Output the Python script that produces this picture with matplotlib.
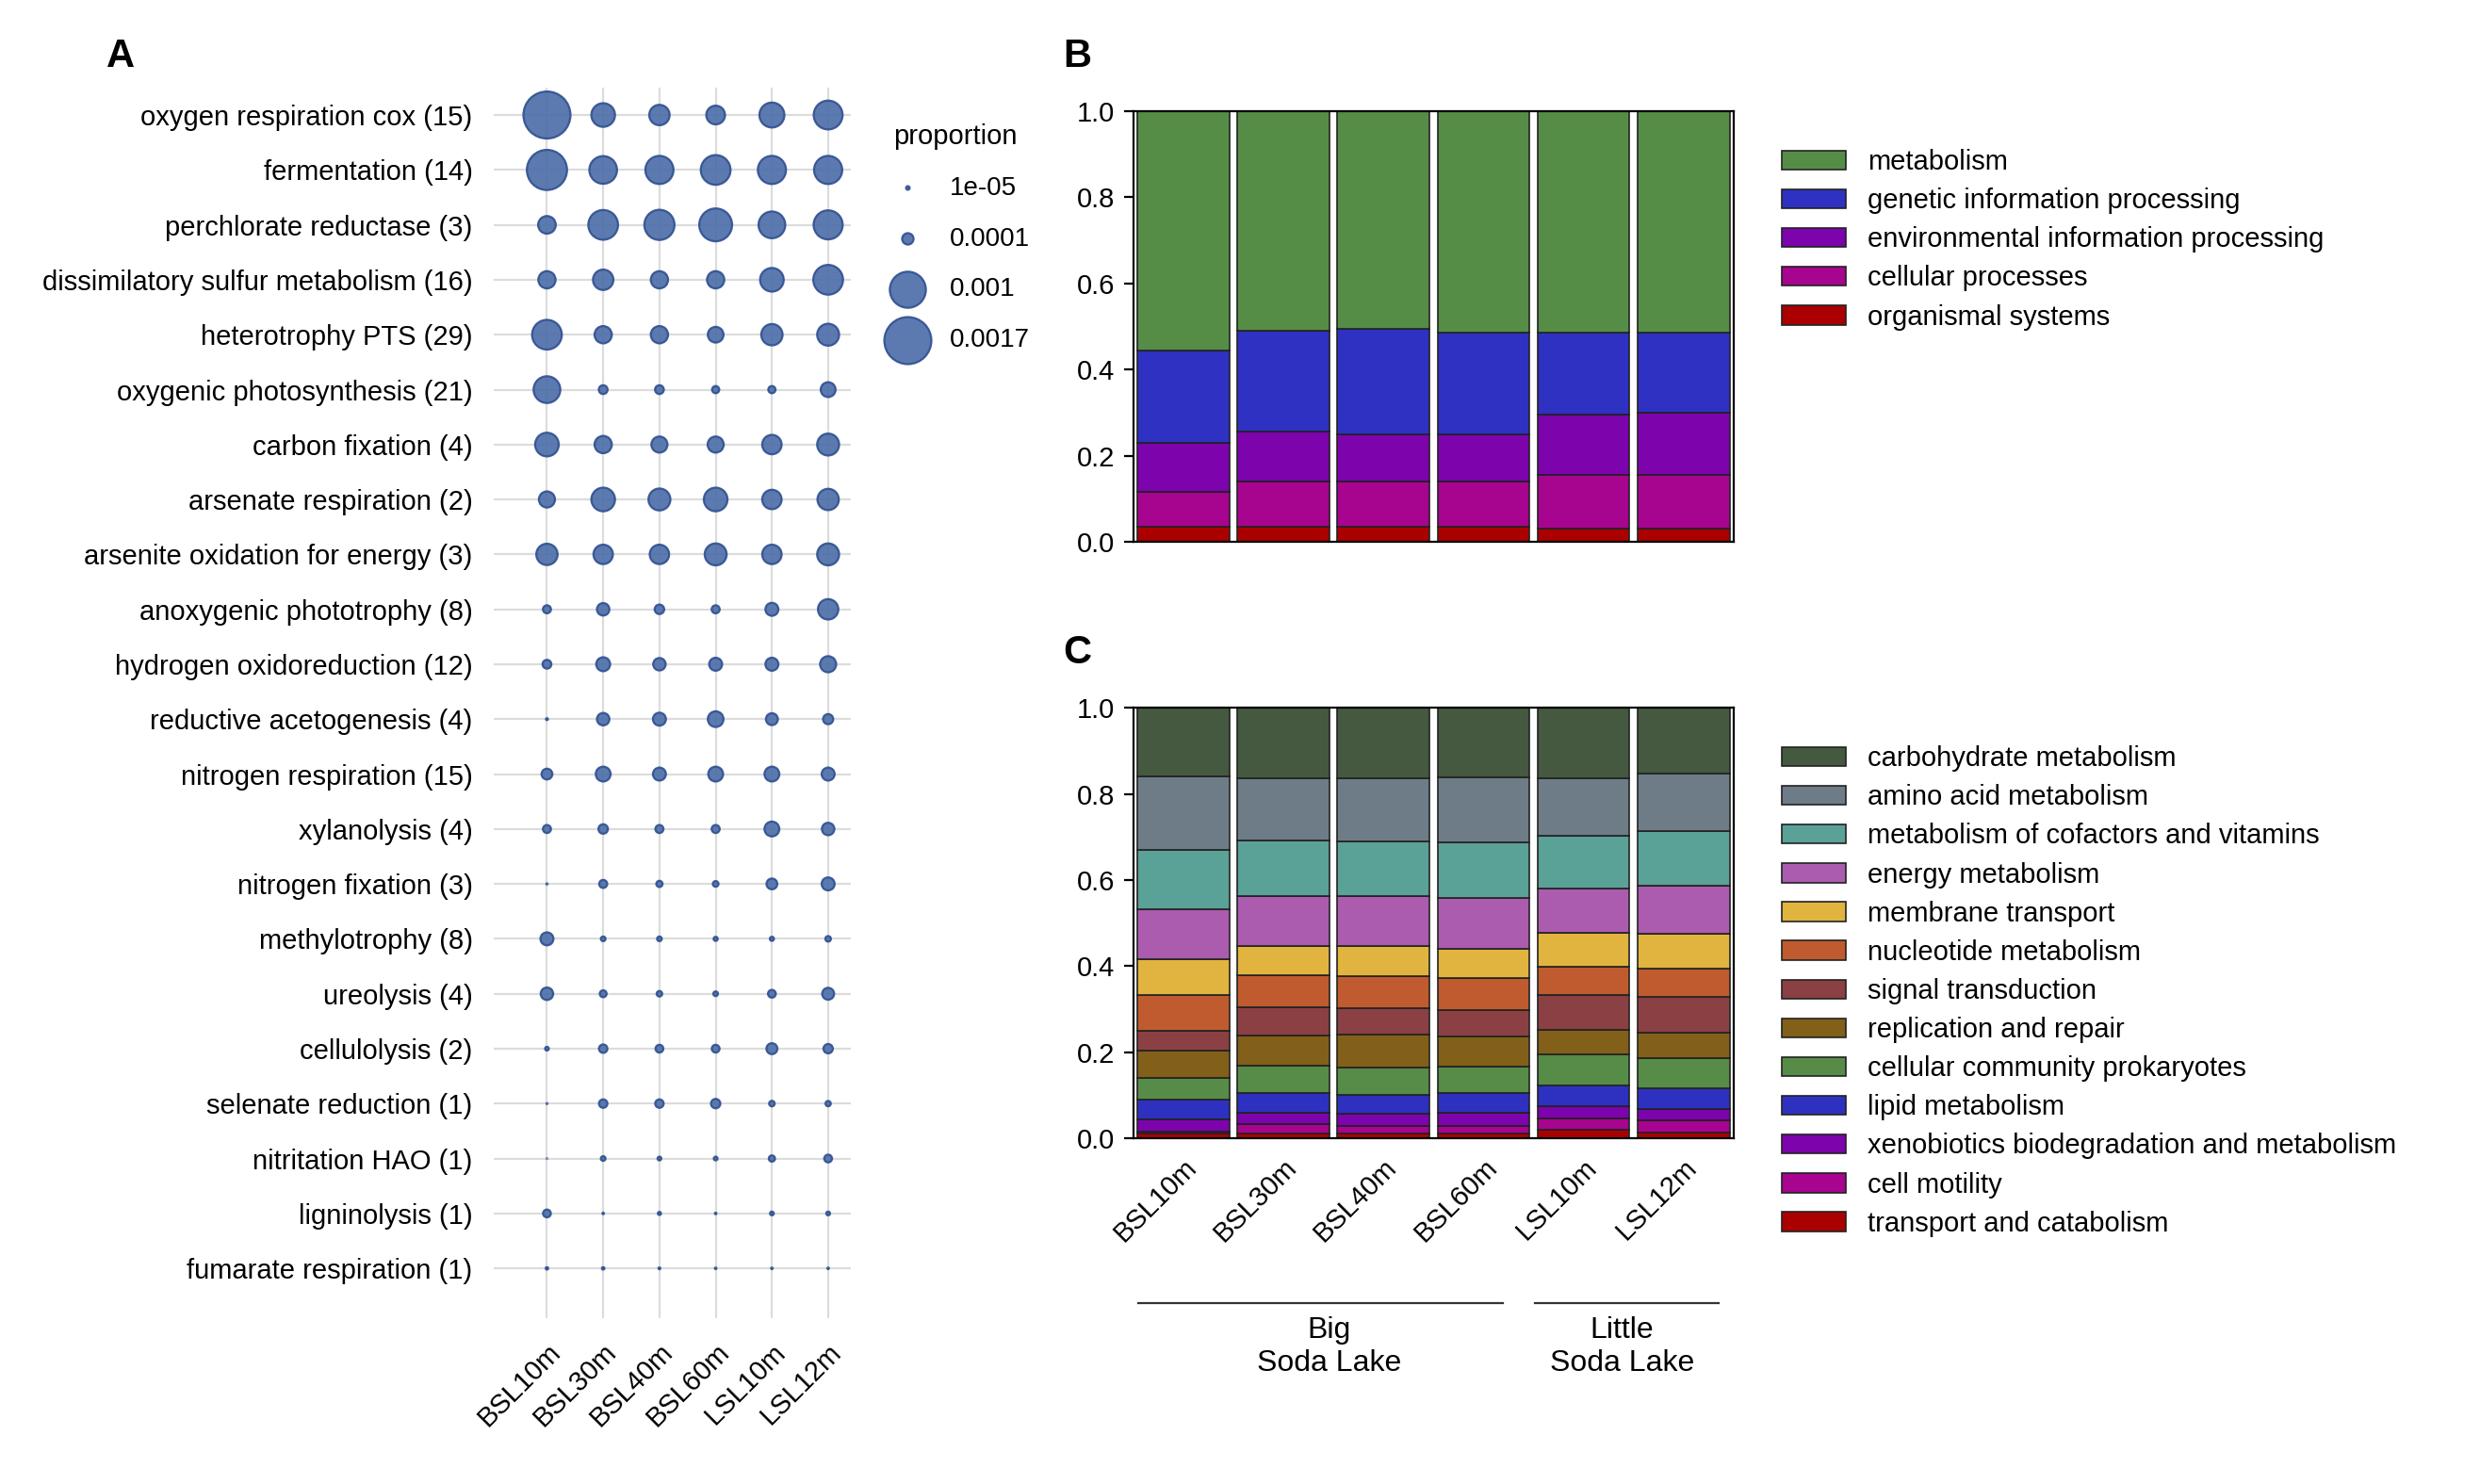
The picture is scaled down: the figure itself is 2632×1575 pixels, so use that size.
import numpy as np
import matplotlib.pyplot as plt

plt.rcParams['font.family'] = ['Liberation Sans', 'DejaVu Sans']

samples = ['BSL10m', 'BSL30m', 'BSL40m', 'BSL60m', 'LSL10m', 'LSL12m']

# ---- panel A: pathway proportions ----
pathways = ['oxygen respiration cox (15)', 'fermentation (14)', 'perchlorate reductase (3)',
            'dissimilatory sulfur metabolism (16)', 'heterotrophy PTS (29)',
            'oxygenic photosynthesis (21)', 'carbon fixation (4)', 'arsenate respiration (2)',
            'arsenite oxidation for energy (3)', 'anoxygenic phototrophy (8)',
            'hydrogen oxidoreduction (12)', 'reductive acetogenesis (4)',
            'nitrogen respiration (15)', 'xylanolysis (4)', 'nitrogen fixation (3)',
            'methylotrophy (8)', 'ureolysis (4)', 'cellulolysis (2)', 'selenate reduction (1)',
            'nitritation HAO (1)', 'ligninolysis (1)', 'fumarate respiration (1)']
proportion = np.array([
    [1.7e-3, 4.3e-4, 3.2e-4, 2.7e-4, 4.8e-4, 6.4e-4],
    [1.24e-3, 5.9e-4, 6.1e-4, 6.8e-4, 6.1e-4, 6.1e-4],
    [2.4e-4, 6.8e-4, 7.0e-4, 8.3e-4, 5.5e-4, 6.5e-4],
    [2.3e-4, 3.2e-4, 2.3e-4, 2.3e-4, 4.3e-4, 6.8e-4],
    [6.8e-4, 2.3e-4, 2.3e-4, 1.9e-4, 3.5e-4, 3.7e-4],
    [5.5e-4, 6e-5, 6e-5, 4e-5, 4e-5, 1.7e-4],
    [4.3e-4, 2.3e-4, 2.0e-4, 2.0e-4, 2.9e-4, 3.7e-4],
    [2.0e-4, 4.3e-4, 3.7e-4, 4.3e-4, 2.9e-4, 3.5e-4],
    [3.5e-4, 2.9e-4, 2.9e-4, 3.7e-4, 2.9e-4, 3.7e-4],
    [5e-5, 1.2e-4, 7e-5, 5e-5, 1.3e-4, 3.2e-4],
    [6e-5, 1.5e-4, 1.2e-4, 1.3e-4, 1.3e-4, 2.0e-4],
    [3e-6, 1.2e-4, 1.3e-4, 1.9e-4, 1.1e-4, 8e-5],
    [9e-5, 1.7e-4, 1.3e-4, 1.7e-4, 1.7e-4, 1.3e-4],
    [5e-5, 7e-5, 5e-5, 5e-5, 1.7e-4, 1.2e-4],
    [1e-6, 5e-5, 3e-5, 2.5e-5, 9e-5, 1.3e-4],
    [1.3e-4, 1.7e-5, 1.7e-5, 1.3e-5, 1.3e-5, 2.4e-5],
    [1.2e-4, 3.7e-5, 2.4e-5, 1.7e-5, 4.7e-5, 1.1e-4],
    [1.1e-5, 5.5e-5, 4.7e-5, 4.7e-5, 9.3e-5, 6.8e-5],
    [7e-7, 5.5e-5, 5.5e-5, 6.8e-5, 2.4e-5, 2.2e-5],
    [3e-7, 1.7e-5, 1.1e-5, 1.1e-5, 3.0e-5, 4.7e-5],
    [4.7e-5, 1.9e-6, 7.6e-6, 1.9e-6, 1.1e-5, 1.1e-5],
    [4.8e-6, 4.8e-6, 2.7e-6, 1.9e-6, 1.9e-6, 1.9e-6],
])
legend_values = [1e-05, 0.0001, 0.001, 0.0017]
legend_labels = ['1e-05', '0.0001', '0.001', '0.0017']

# ---- panel B: top-level KEGG categories (bottom to top) ----
b_cats = ['organismal systems', 'cellular processes', 'environmental information processing',
          'genetic information processing', 'metabolism']
b_colors = ['#aa0000', '#a7048f', '#7d03ad', '#2e31c2', '#558d47']
b_tops = np.array([  # cumulative upper boundary of each layer
    [0.035, 0.035, 0.035, 0.035, 0.030, 0.030],
    [0.115, 0.140, 0.140, 0.140, 0.155, 0.155],
    [0.230, 0.255, 0.250, 0.250, 0.295, 0.300],
    [0.445, 0.490, 0.495, 0.485, 0.485, 0.485],
    [1.0, 1.0, 1.0, 1.0, 1.0, 1.0],
])

# ---- panel C: second-level categories (bottom to top) ----
c_cats = ['transport and catabolism', 'cell motility', 'xenobiotics biodegradation and metabolism',
          'lipid metabolism', 'cellular community prokaryotes', 'replication and repair',
          'signal transduction', 'nucleotide metabolism', 'membrane transport',
          'energy metabolism', 'metabolism of cofactors and vitamins', 'amino acid metabolism',
          'carbohydrate metabolism']
c_colors = ['#aa0000', '#a7048f', '#7d03ad', '#2e31bf', '#568c47', '#82601a', '#8b4044',
            '#bf5b2e', '#e0b43e', '#ab5caf', '#5aa197', '#6e7c87', '#44593f']
c_tops = np.array([
    [0.012, 0.012, 0.010, 0.010, 0.019, 0.014],
    [0.016, 0.033, 0.029, 0.029, 0.047, 0.041],
    [0.043, 0.060, 0.058, 0.060, 0.074, 0.067],
    [0.089, 0.105, 0.101, 0.105, 0.122, 0.115],
    [0.141, 0.169, 0.165, 0.167, 0.194, 0.186],
    [0.204, 0.238, 0.240, 0.236, 0.252, 0.246],
    [0.250, 0.305, 0.302, 0.298, 0.333, 0.329],
    [0.333, 0.378, 0.376, 0.372, 0.398, 0.394],
    [0.415, 0.447, 0.446, 0.440, 0.477, 0.475],
    [0.531, 0.562, 0.562, 0.558, 0.580, 0.587],
    [0.671, 0.692, 0.690, 0.688, 0.702, 0.713],
    [0.841, 0.837, 0.837, 0.839, 0.837, 0.847],
    [1.0, 1.0, 1.0, 1.0, 1.0, 1.0],
])

SIZE_K = 190000  # points^2 per unit proportion
bubble_face = '#4a6ca8'
bubble_edge = '#2f4f8f'

fig = plt.figure(figsize=(13.16, 7.875), dpi=200)

# panel A
axA = fig.add_axes([0.199, 0.112, 0.144, 0.829])
n_rows = len(pathways)
xs = np.arange(len(samples))
ys = np.arange(n_rows)[::-1]
for i in range(n_rows):
    axA.axhline(ys[i], color='#dcdcdc', lw=0.8, zorder=0)
for j in xs:
    axA.axvline(j, color='#dcdcdc', lw=0.8, zorder=0)
X, Y = np.meshgrid(xs, ys)
axA.scatter(X.ravel(), Y.ravel(), s=proportion.ravel() * SIZE_K, c=bubble_face,
            edgecolors=bubble_edge, linewidths=0.8, alpha=0.9, zorder=2)
axA.set_xlim(-0.95, 5.4)
axA.set_ylim(-0.9, n_rows - 0.5)
axA.set_yticks(ys)
axA.set_yticklabels(pathways, fontsize=10.5)
axA.set_xticks(xs)
axA.set_xticklabels(samples, rotation=45, ha='right', rotation_mode='anchor', fontsize=10.5)
axA.tick_params(length=0, pad=8)
for s in axA.spines.values():
    s.set_visible(False)
handles = [axA.scatter([], [], s=v * SIZE_K, c=bubble_face, edgecolors=bubble_edge,
                       linewidths=0.8, alpha=0.9) for v in legend_values]
axA.legend(handles, legend_labels, title='proportion', frameon=False, fontsize=10,
           title_fontsize=10.5, labelspacing=1.0, handletextpad=0.6,
           loc='upper left', bbox_to_anchor=(1.02, 0.99))
fig.text(0.043, 0.955, 'A', fontsize=15, fontweight='bold')

# panel B
width = 0.92
axB = fig.add_axes([0.457, 0.635, 0.242, 0.29])
prev = np.zeros(len(samples))
for k in range(len(b_cats)):
    axB.bar(xs, b_tops[k] - prev, bottom=prev, width=width, color=b_colors[k],
            edgecolor='#222222', linewidth=0.6, label=b_cats[k])
    prev = b_tops[k]
axB.set_xlim(-0.5, 5.5)
axB.set_ylim(0, 1.0)
axB.set_xticks([])
axB.set_yticks([0, 0.2, 0.4, 0.6, 0.8, 1.0])
axB.tick_params(labelsize=10.5)
h, l = axB.get_legend_handles_labels()
axB.legend(h[::-1], l[::-1], frameon=False, fontsize=10.5, loc='upper left',
           bbox_to_anchor=(1.04, 0.97), handlelength=2.3, labelspacing=0.45)
fig.text(0.4285, 0.955, 'B', fontsize=15, fontweight='bold')

# panel C
axC = fig.add_axes([0.457, 0.233, 0.242, 0.29])
prev = np.zeros(len(samples))
for k in range(len(c_cats)):
    axC.bar(xs, c_tops[k] - prev, bottom=prev, width=width, color=c_colors[k],
            edgecolor='#222222', linewidth=0.6, label=c_cats[k])
    prev = c_tops[k]
axC.set_xlim(-0.5, 5.5)
axC.set_ylim(0, 1.0)
axC.set_xticks(xs)
axC.set_xticklabels(samples, rotation=45, ha='right', rotation_mode='anchor', fontsize=10.5)
axC.tick_params(axis='x', length=0, pad=6)
axC.set_yticks([0, 0.2, 0.4, 0.6, 0.8, 1.0])
axC.tick_params(axis='y', labelsize=10.5)
h, l = axC.get_legend_handles_labels()
axC.legend(h[::-1], l[::-1], frameon=False, fontsize=10.5, loc='upper left',
           bbox_to_anchor=(1.04, 0.97), handlelength=2.3, labelspacing=0.45)
fig.text(0.4285, 0.553, 'C', fontsize=15, fontweight='bold')

# lake group annotations
y_line = 0.122
fig.add_artist(plt.Line2D([0.459, 0.606], [y_line, y_line], color='#333333', lw=0.8))
fig.add_artist(plt.Line2D([0.619, 0.693], [y_line, y_line], color='#333333', lw=0.8))
fig.text(0.536, 0.113, 'Big\nSoda Lake', ha='center', va='top', fontsize=11.5, linespacing=1.2)
fig.text(0.654, 0.113, 'Little\nSoda Lake', ha='center', va='top', fontsize=11.5, linespacing=1.2)

fig.savefig('out.png', dpi=200, facecolor='white')
